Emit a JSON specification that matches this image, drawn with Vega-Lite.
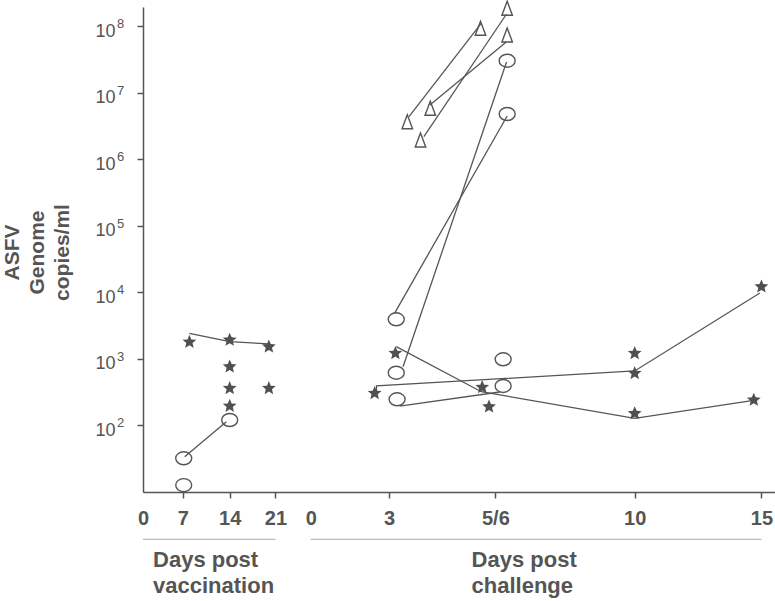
{
  "$schema": "https://vega.github.io/schema/vega-lite/v6.json",
  "width": 632,
  "height": 485,
  "autosize": {"type": "none"},
  "padding": {"left": 143, "top": 7, "right": 0, "bottom": 109},
  "background": "white",
  "config": {"view": {"stroke": null}, "font": "Liberation Sans"},
  "datasets": {
    "points": [
      {"kind": "star", "t": 8.0, "v": 1800},
      {"kind": "star", "t": 14, "v": 1930},
      {"kind": "star", "t": 20.0, "v": 1530},
      {"kind": "star", "t": 14, "v": 766},
      {"kind": "star", "t": 14, "v": 362},
      {"kind": "star", "t": 14, "v": 196},
      {"kind": "star", "t": 20.0, "v": 362},
      {"kind": "circle", "t": 14, "v": 121},
      {"kind": "circle", "t": 7.15, "v": 32.1},
      {"kind": "circle", "t": 7.15, "v": 12.7},
      {"kind": "star", "t": 27.45, "v": 305},
      {"kind": "star", "t": 28.15, "v": 1219},
      {"kind": "star", "t": 30.19, "v": 375},
      {"kind": "star", "t": 30.35, "v": 192},
      {"kind": "star", "t": 35, "v": 1219},
      {"kind": "star", "t": 35, "v": 609},
      {"kind": "star", "t": 35, "v": 152},
      {"kind": "star", "t": 40, "v": 12220},
      {"kind": "star", "t": 39.7, "v": 242},
      {"kind": "circle", "t": 28.17, "v": 3954},
      {"kind": "circle", "t": 28.17, "v": 622},
      {"kind": "circle", "t": 28.19, "v": 248},
      {"kind": "circle", "t": 30.75, "v": 989},
      {"kind": "circle", "t": 30.75, "v": 393},
      {"kind": "circle", "t": 30.88, "v": 30600000},
      {"kind": "circle", "t": 30.88, "v": 4830000},
      {"kind": "triangle", "t": 30.15, "v": 94000000},
      {"kind": "triangle", "t": 30.88, "v": 188000000},
      {"kind": "triangle", "t": 30.88, "v": 74500000},
      {"kind": "triangle", "t": 28.43, "v": 3700000},
      {"kind": "triangle", "t": 28.97, "v": 5890000},
      {"kind": "triangle", "t": 28.74, "v": 1960000}
    ],
    "lines": [
      {"line": "VS", "ord": 1, "t": 8.0, "v": 2432},
      {"line": "VS", "ord": 2, "t": 14, "v": 1820},
      {"line": "VS", "ord": 3, "t": 20.1, "v": 1683},
      {"line": "VC", "ord": 1, "t": 7.3, "v": 34.0},
      {"line": "VC", "ord": 2, "t": 13.5, "v": 114},
      {"line": "L1", "ord": 1, "t": 28.47, "v": 4410000},
      {"line": "L1", "ord": 2, "t": 30.17, "v": 112000000},
      {"line": "L2", "ord": 1, "t": 28.82, "v": 2200000},
      {"line": "L2", "ord": 2, "t": 30.86, "v": 154000000},
      {"line": "L3", "ord": 1, "t": 28.96, "v": 6610000},
      {"line": "L3", "ord": 2, "t": 30.86, "v": 59000000},
      {"line": "A", "ord": 1, "t": 30.86, "v": 29300000},
      {"line": "A", "ord": 2, "t": 28.33, "v": 766},
      {"line": "B", "ord": 1, "t": 30.88, "v": 4510000},
      {"line": "B", "ord": 2, "t": 28.13, "v": 4864},
      {"line": "S1", "ord": 1, "t": 28.17, "v": 1531},
      {"line": "S1", "ord": 2, "t": 30.17, "v": 322},
      {"line": "S1", "ord": 3, "t": 35, "v": 128},
      {"line": "S1", "ord": 4, "t": 39.82, "v": 242},
      {"line": "S2", "ord": 1, "t": 27.52, "v": 319},
      {"line": "S2", "ord": 2, "t": 27.52, "v": 393},
      {"line": "S2", "ord": 3, "t": 35, "v": 661},
      {"line": "S2", "ord": 4, "t": 39.94, "v": 9820},
      {"line": "C1", "ord": 1, "t": 28.25, "v": 196},
      {"line": "C1", "ord": 2, "t": 30.64, "v": 319}
    ],
    "exps": [
      {"v": 100, "e": "2"},
      {"v": 1000, "e": "3"},
      {"v": 10000, "e": "4"},
      {"v": 100000, "e": "5"},
      {"v": 1000000, "e": "6"},
      {"v": 10000000, "e": "7"},
      {"v": 100000000, "e": "8"}
    ],
    "annot": [
      {"part": "rule", "t": 0, "t2": 21},
      {"part": "rule", "t": 25, "t2": 40},
      {"part": "text", "t": 1.77, "label": "Days post|vaccination"},
      {"part": "text", "t": 29.94, "label": "Days post|challenge"}
    ]
  },
  "layer": [
    {
      "layer": [
        {
          "data": {"name": "lines"},
          "mark": {"type": "line", "color": "#555555", "strokeWidth": 1.3},
          "encoding": {
            "x": {
              "field": "t",
              "type": "quantitative",
              "scale": {
                "type": "linear",
                "domain": [0, 7, 14, 21, 25, 28, 30.5, 35, 40, 40.54],
                "range": [0, 39.7, 86.7, 132.4, 167.7, 246, 352.4, 491.7, 618.4, 632],
                "nice": false,
                "zero": false
              },
              "axis": {
                "title": null,
                "values": [0, 7, 14, 21, 25, 28, 30.5, 35, 40],
                "labelExpr": "datum.value == 30.5 ? '5/6' : (datum.value > 22 ? format(datum.value - 25, 'd') : format(datum.value, 'd'))",
                "grid": false,
                "tickSize": 6,
                "tickColor": "#555555",
                "tickWidth": 1.5,
                "tickOpacity": {"condition": {"test": "datum.value == 0 || datum.value == 25", "value": 0}, "value": 1},
                "labelFont": "Liberation Sans",
                "labelFontSize": 20,
                "labelFontWeight": "bold",
                "labelColor": "#555555",
                "labelPadding": 10,
                "labelFlush": false,
                "labelOverlap": false,
                "domainColor": "#555555",
                "domainWidth": 1.5
              }
            },
            "y": {
              "field": "v",
              "type": "quantitative",
              "scale": {"type": "log", "domain": [10, 196300000], "nice": false},
              "axis": {
                "values": [100, 1000, 10000, 100000, 1000000, 10000000, 100000000],
                "labelExpr": "'10'",
                "grid": false,
                "tickSize": 6,
                "tickColor": "#555555",
                "tickWidth": 1.5,
                "labelFont": "Liberation Sans",
                "labelFontSize": 18,
                "labelColor": "#555555",
                "labelPadding": 22,
                "labelOffset": 5,
                "labelFlush": false,
                "labelOverlap": false,
                "domainColor": "#555555",
                "domainWidth": 1.5,
                "title": ["ASFV", "Genome", "copies/ml"],
                "titleFont": "Liberation Sans",
                "titleFontSize": 21,
                "titleFontWeight": "bold",
                "titleColor": "#555555",
                "titleLineHeight": 25,
                "titleAngle": -90,
                "titleAlign": "center",
                "titleBaseline": "alphabetic",
                "titleX": -125,
                "titleY": 245
              }
            },
            "detail": {"field": "line"},
            "order": {"field": "ord"}
          }
        },
        {
          "data": {"name": "exps"},
          "mark": {"type": "text", "align": "left", "baseline": "middle", "dx": -26, "dy": -2, "font": "Liberation Sans", "fontSize": 13, "color": "#555555"},
          "encoding": {
            "x": {"datum": 0, "type": "quantitative"},
            "y": {"field": "v", "type": "quantitative"},
            "text": {"field": "e"}
          }
        },
        {
          "data": {"name": "points"},
          "transform": [{"filter": "datum.kind == 'circle'"}],
          "mark": {"type": "point", "shape": "M-1,0A1,0.8125 0 1,1 1,0A1,0.8125 0 1,1 -1,0Z", "size": 256, "filled": false, "stroke": "#555555", "strokeWidth": 1.4, "opacity": 1},
          "encoding": {
            "x": {"field": "t", "type": "quantitative"},
            "y": {"field": "v", "type": "quantitative"}
          }
        },
        {
          "data": {"name": "points"},
          "transform": [{"filter": "datum.kind == 'triangle'"}],
          "mark": {"type": "point", "shape": "M0,-1L0.75,1L-0.75,1Z", "size": 196, "filled": false, "stroke": "#555555", "strokeWidth": 1.4, "opacity": 1},
          "encoding": {
            "x": {"field": "t", "type": "quantitative"},
            "y": {"field": "v", "type": "quantitative"}
          }
        },
        {
          "data": {"name": "points"},
          "transform": [{"filter": "datum.kind == 'star'"}],
          "mark": {"type": "point", "shape": "M0,-1L0.2645,-0.3641L0.9511,-0.309L0.428,0.1391L0.5878,0.809L0,0.45L-0.5878,0.809L-0.428,0.1391L-0.9511,-0.309L-0.2645,-0.3641Z", "size": 210, "filled": true, "fill": "#505050", "strokeWidth": 0, "opacity": 1},
          "encoding": {
            "x": {"field": "t", "type": "quantitative"},
            "y": {"field": "v", "type": "quantitative"}
          }
        }
      ]
    },
    {
      "data": {"name": "annot"},
      "layer": [
        {
          "transform": [{"filter": "datum.part == 'rule'"}],
          "mark": {"type": "rule", "color": "#aaaaaa", "strokeWidth": 1},
          "encoding": {
            "x": {"field": "t", "type": "quantitative"},
            "x2": {"field": "t2"},
            "y": {"field": "part", "type": "nominal", "scale": {"type": "point", "domain": ["rule", "text"], "range": [532.3, 559.7], "padding": 0}, "axis": null}
          }
        },
        {
          "transform": [{"filter": "datum.part == 'text'"}],
          "mark": {"type": "text", "align": "left", "baseline": "alphabetic", "font": "Liberation Sans", "fontSize": 22, "fontWeight": "bold", "color": "#555555", "lineBreak": "|", "lineHeight": 26},
          "encoding": {
            "x": {"field": "t", "type": "quantitative"},
            "y": {"field": "part", "type": "nominal", "scale": {"type": "point", "domain": ["rule", "text"], "range": [532.3, 559.7], "padding": 0}, "axis": null},
            "text": {"field": "label"}
          }
        }
      ]
    }
  ],
  "resolve": {"scale": {"y": "independent"}}
}
